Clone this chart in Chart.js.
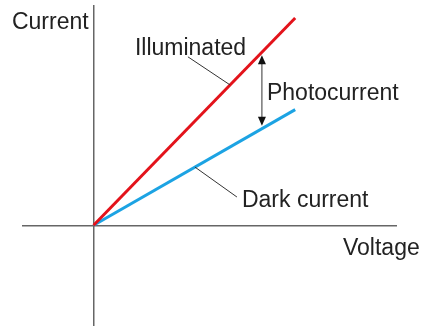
<!DOCTYPE html>
<html>
<head>
<meta charset="utf-8">
<script src="https://cdn.jsdelivr.net/npm/chart.js@4"></script>
<style>
  html, body { margin: 0; padding: 0; background: #fff; }
  #wrap { width: 423px; height: 328px; }
</style>
</head>
<body>
<div id="wrap"><canvas id="ivChart"></canvas></div>
<script>
// I-V curves of a photodiode, arbitrary units
const voltage = [0, 1.0];
const illuminated = [0, 1.04];
const darkCurrent = [0, 0.58];

// text labels: [text, x, y] (left edge / baseline, data units)
const labels = [
    ['Current', -0.405, 0.984],
    ['Illuminated', 0.205, 0.856],
    ['Photocurrent', 0.86, 0.628],
    ['Dark current', 0.736, 0.092],
    ['Voltage', 1.237, -0.149]
];

// leader lines from a curve to its label: [x1, y1, x2, y2]
const leaders = [
    [0.677, 0.704, 0.468, 0.845],
    [0.503, 0.292, 0.711, 0.142]
];

// photocurrent arrow between the two curves
const arrowX = 0.835;
const arrowTop = 0.868;
const arrowBottom = 0.484;

const toPoints = (xs, ys) => xs.map((x, i) => ({ x, y: ys[i] }));

function arrowHead(ctx, x, y, dir) {
    // dir = 1 points up, -1 points down
    ctx.beginPath();
    ctx.moveTo(x, y);
    ctx.lineTo(x - 4, y + dir * 9);
    ctx.lineTo(x + 4, y + dir * 9);
    ctx.closePath();
    ctx.fill();
}

const annotations = {
    id: 'annotations',
    afterDatasetsDraw(chart) {
        const { ctx, scales: { x, y } } = chart;
        ctx.save();

        ctx.strokeStyle = '#333';
        ctx.lineWidth = 1;
        leaders.forEach(([x1, y1, x2, y2]) => {
            ctx.beginPath();
            ctx.moveTo(x.getPixelForValue(x1), y.getPixelForValue(y1));
            ctx.lineTo(x.getPixelForValue(x2), y.getPixelForValue(y2));
            ctx.stroke();
        });

        const ax = x.getPixelForValue(arrowX);
        const top = y.getPixelForValue(arrowTop) + 3;
        const bottom = y.getPixelForValue(arrowBottom) - 3;
        ctx.beginPath();
        ctx.moveTo(ax, top + 8);
        ctx.lineTo(ax, bottom - 8);
        ctx.stroke();
        ctx.fillStyle = '#111';
        arrowHead(ctx, ax, top, 1);
        arrowHead(ctx, ax, bottom, -1);

        ctx.fillStyle = '#222';
        ctx.font = '23px "Liberation Sans", Arial, sans-serif';
        ctx.textAlign = 'left';
        ctx.textBaseline = 'alphabetic';
        labels.forEach(([text, lx, ly]) => {
            ctx.fillText(text, x.getPixelForValue(lx), y.getPixelForValue(ly));
        });

        ctx.restore();
    }
};

const chart = new Chart(document.getElementById('ivChart'), {
    type: 'line',
    data: {
        datasets: [
            {
                label: 'Illuminated',
                data: toPoints(voltage, illuminated),
                borderColor: '#e3131b',
                borderWidth: 3,
                pointRadius: 0
            },
            {
                label: 'Dark current',
                data: toPoints(voltage, darkCurrent),
                borderColor: '#1ca3e3',
                borderWidth: 3,
                pointRadius: 0
            }
        ]
    },
    options: {
        responsive: true,
        maintainAspectRatio: false,
        animation: false,
        layout: { padding: { left: 23, right: 27, top: 6, bottom: 3 } },
        plugins: {
            legend: { display: false },
            tooltip: { enabled: false }
        },
        scales: {
            x: {
                type: 'linear',
                min: -0.35,
                max: 1.5,
                position: { y: 0 },
                grid: { display: false },
                ticks: { display: false },
                border: { color: '#666', width: 1.5 }
            },
            y: {
                type: 'linear',
                min: -0.5,
                max: 1.1,
                position: { x: 0 },
                grid: { display: false },
                ticks: { display: false },
                border: { color: '#666', width: 1.5 }
            }
        }
    },
    plugins: [annotations]
});
</script>
</body>
</html>
